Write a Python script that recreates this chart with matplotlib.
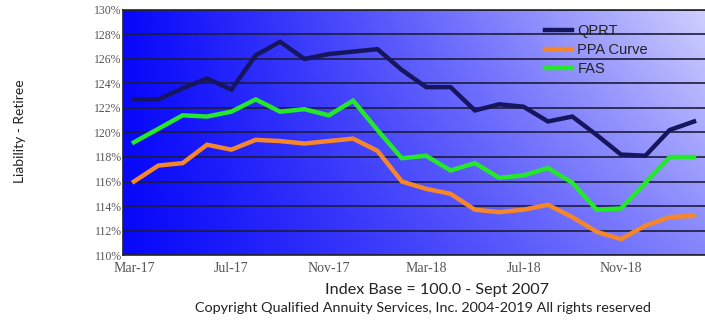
import matplotlib
matplotlib.use('Agg')
import matplotlib.pyplot as plt
import numpy as np

# monthly values, Mar-17 .. Feb-19
months = ['Mar-17', 'Apr-17', 'May-17', 'Jun-17', 'Jul-17', 'Aug-17', 'Sep-17', 'Oct-17',
          'Nov-17', 'Dec-17', 'Jan-18', 'Feb-18', 'Mar-18', 'Apr-18', 'May-18', 'Jun-18',
          'Jul-18', 'Aug-18', 'Sep-18', 'Oct-18', 'Nov-18', 'Dec-18', 'Jan-19', 'Feb-19']
qprt = [122.7, 122.7, 123.6, 124.4, 123.5, 126.3, 127.4, 126.0, 126.4, 126.6, 126.8, 125.1,
        123.7, 123.7, 121.8, 122.3, 122.1, 120.9, 121.3, 119.8, 118.2, 118.1, 120.2, 120.9]
ppa = [116.0, 117.3, 117.5, 119.0, 118.6, 119.4, 119.3, 119.1, 119.3, 119.5, 118.5, 116.0,
       115.4, 115.0, 113.7, 113.5, 113.7, 114.1, 113.1, 111.9, 111.3, 112.4, 113.1, 113.2]
fas = [119.2, 120.3, 121.4, 121.3, 121.7, 122.7, 121.7, 121.9, 121.4, 122.6, 120.2, 117.9,
       118.1, 116.9, 117.5, 116.3, 116.5, 117.1, 115.9, 113.7, 113.8, 115.9, 118.0, 118.0]
yticks = [110, 112, 114, 116, 118, 120, 122, 124, 126, 128, 130]

fig = plt.figure(figsize=(7.05, 3.2), dpi=100)
ax = fig.add_axes([0.1745, 0.203, 0.8255, 0.766])

x = np.arange(len(months))
ax.set_xlim(-0.45, 23.45)
ax.set_ylim(110, 130)

# gradient background: deep blue at left, pale lavender at top right
gx = np.linspace(0, 1, 300)
gy = np.linspace(0, 1, 120)
GX, GY = np.meshgrid(gx, gy)   # GY = 0 at bottom
w = GX ** 1.1 * (0.55 + 0.33 * GY)
blue = np.array([8, 8, 250]) / 255.
white = np.array([235, 235, 255]) / 255.
img = blue[None, None, :] + w[:, :, None] * (white - blue)[None, None, :]
ax.imshow(img, extent=[-0.45, 23.45, 110, 130], origin='lower', aspect='auto', zorder=0)

for t in yticks:
    ax.axhline(t, color='#1c1c3c', lw=1.2, zorder=1)

ax.plot(x, qprt, color='#16165e', lw=3.2, label='QPRT', zorder=3, solid_joinstyle='miter')
ax.plot(x, ppa, color='#f5862a', lw=3.2, label='PPA Curve', zorder=3, solid_joinstyle='miter')
ax.plot(x, fas, color='#25e82a', lw=3.2, label='FAS', zorder=3, solid_joinstyle='miter')

ax.set_yticks(yticks)
ax.set_yticklabels([f'{t}%' for t in yticks])
ax.set_xticks(x[::4])
ax.set_xticklabels(months[::4])
ax.tick_params(length=0, labelcolor='#555555')
for lab in ax.get_yticklabels():
    lab.set_family('Liberation Serif')
    lab.set_fontsize(8.5)
for lab in ax.get_xticklabels():
    lab.set_family('Liberation Serif')
    lab.set_fontsize(10)
ax.tick_params(axis='y', pad=1)
ax.tick_params(axis='x', pad=5)

for s in ['left', 'bottom', 'top']:
    ax.spines[s].set_color('#222233')
    ax.spines[s].set_linewidth(1.2)
ax.spines['right'].set_visible(False)

leg = ax.legend(loc='upper left', bbox_to_anchor=(0.703, 0.995), frameon=False,
                handlelength=1.8, handletextpad=0.4, labelspacing=0.33,
                prop={'family': 'Liberation Sans', 'size': 10.5})
for line in leg.get_lines():
    line.set_linewidth(3.2)
for t in leg.get_texts():
    t.set_color('#222222')

fig.text(0.028, 0.59, 'Liability - Retiree', rotation=90, ha='center', va='center',
         family='Lato', fontsize=10, color='#222222')
fig.text(0.62, 0.095, 'Index Base = 100.0 - Sept 2007', ha='center', va='center',
         family='Lato', fontsize=11.6, color='#222222')
fig.text(0.6, 0.038, 'Copyright Qualified Annuity Services, Inc. 2004-2019 All rights reserved',
         ha='center', va='center', family='Lato', fontsize=10.35, color='#222222')

fig.savefig('out.png', dpi=100)
